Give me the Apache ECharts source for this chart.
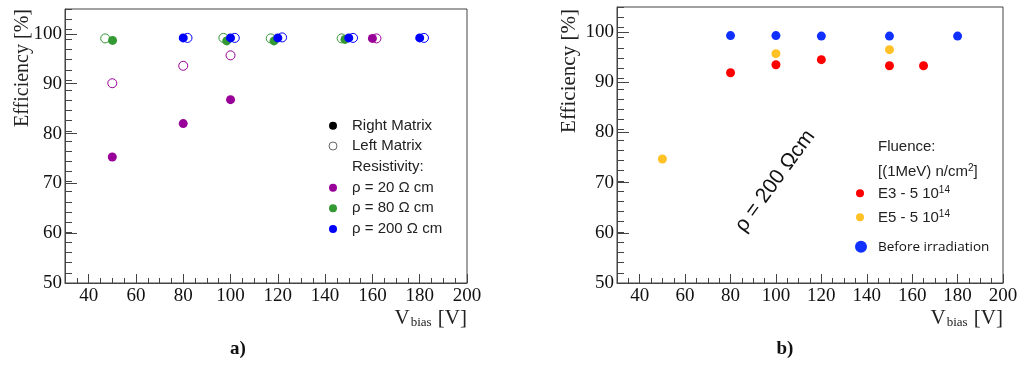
<!DOCTYPE html>
<html><head><meta charset="utf-8">
<script src="https://cdn.jsdelivr.net/npm/echarts@6/dist/echarts.min.js"></script>
<style>html,body{margin:0;padding:0;background:#fff}#c{width:1021px;height:367px}</style>
</head><body><div id="c"></div>
<script>
// ---- Panel a) : efficiency vs bias, per resistivity (right / left matrix) ----
const vRight20 = [50, 80, 100, 160];
const effRight20 = [75.3, 82.0, 86.8, 99.1];
const vLeft20 = [50, 80, 100, 161.7];
const effLeft20 = [90.1, 93.6, 95.7, 99.1];
const vRight80 = [50.1, 98.4, 118.4, 148.4];
const effRight80 = [98.7, 98.6, 98.6, 98.9];
const vLeft80 = [47, 97, 117, 147];
const effLeft80 = [99.1, 99.2, 99.1, 99.1];
const vRight200 = [80, 100, 120, 150, 180];
const effRight200 = [99.2, 99.2, 99.2, 99.2, 99.2];
const vLeft200 = [81.8, 101.8, 121.8, 151.8, 181.8];
const effLeft200 = [99.2, 99.2, 99.3, 99.2, 99.2];

// ---- Panel b) : rho = 200 Ohm cm, irradiated vs before ----
const vE3 = [80, 100, 120, 150, 165];
const effE3 = [91.9, 93.5, 94.5, 93.3, 93.3];
const vE5 = [50, 100, 150];
const effE5 = [74.7, 95.7, 96.5];
const vBefore = [80, 100, 120, 150, 180];
const effBefore = [99.3, 99.3, 99.2, 99.2, 99.2];

// ---- tick labels ----
const xTickLabels = [40, 60, 80, 100, 120, 140, 160, 180, 200];
const yTickLabels = [50, 60, 70, 80, 90, 100];

const zip = (xs, ys) => xs.map((x, i) => [x, ys[i]]);
const frame = '#444';
const serif = "'Liberation Serif', serif";
const sans = "'Liberation Sans', sans-serif";

function xMain(gi) {
  return { type: 'value', gridIndex: gi, min: 30, max: 200,
    axisLine: { show: true, lineStyle: { color: frame, width: 1 } },
    axisTick: { show: true, inside: true, length: 9, customValues: xTickLabels, lineStyle: { color: frame } },
    axisLabel: { customValues: xTickLabels, fontFamily: serif, fontSize: 19, color: '#111', margin: 4 },
    splitLine: { show: false } };
}
function xMinor(gi) {
  return { type: 'value', gridIndex: gi, min: 30, max: 200, interval: 5,
    axisLine: { show: false }, axisTick: { show: true, inside: true, length: 5, lineStyle: { color: frame } },
    axisLabel: { show: false }, splitLine: { show: false } };
}
function yMain(gi) {
  return { type: 'value', gridIndex: gi, min: 50, max: 105,
    axisLine: { show: true, lineStyle: { color: frame, width: 1 } },
    axisTick: { show: true, inside: true, length: 12, customValues: yTickLabels, lineStyle: { color: frame } },
    axisLabel: { customValues: yTickLabels, fontFamily: serif, fontSize: 19, color: '#111', margin: 3 },
    splitLine: { show: false } };
}
function yMinor(gi) {
  return { type: 'value', gridIndex: gi, min: 50, max: 104, interval: 2,
    axisLine: { show: false }, axisTick: { show: true, inside: true, length: 7, lineStyle: { color: frame } },
    axisLabel: { show: false }, splitLine: { show: false } };
}
function filled(name, data, color, ax) {
  return { type: 'scatter', name, data, xAxisIndex: ax, yAxisIndex: ax, symbol: 'circle', symbolSize: 9, z: 4,
    itemStyle: { color, opacity: 1 }, emphasis: { disabled: true } };
}
function hollow(name, data, color, ax) {
  return { type: 'scatter', name, data, xAxisIndex: ax, yAxisIndex: ax, symbol: 'circle', symbolSize: 9, z: 3,
    itemStyle: { color: 'rgba(255,255,255,0)', borderColor: color, borderWidth: 1, opacity: 1 }, emphasis: { disabled: true } };
}

const purple = '#990099', green = '#339933', blue = '#0000ff';
const red = '#ff0000', yellow = '#ffc125', blue2 = '#1030ff';

function legDot(cx, cy, r, fill, stroke) {
  return { type: 'circle', shape: { cx, cy, r }, style: fill ? { fill } : { fill: 'none', stroke, lineWidth: 1 }, z: 10 };
}
function legText(x, y, text, extra) {
  return { type: 'text', x, y, z: 10, style: Object.assign({ text, fontFamily: sans, fontSize: 15, fill: '#222', verticalAlign: 'middle', align: 'left' }, extra || {}) };
}
const supRich = { t: { fontFamily: sans, fontSize: 15, fill: '#222', lineHeight: 17 }, p: { fontFamily: sans, fontSize: 10, fill: '#222', lineHeight: 10, verticalAlign: 'top' } };
const vbiasRich = { v: { fontFamily: serif, fontSize: 21, fill: '#222', lineHeight: 22 },
                    s: { fontFamily: serif, fontSize: 13, fill: '#222', lineHeight: 12, verticalAlign: 'bottom', padding: [0, 1, 0, 1] } };

// grid rectangles: 0 = panel a, 1 = panel a minor ticks, 2 = panel b, 3 = panel b minor ticks
const gA = { left: 65, top: 9, width: 402, height: 274 };
const gB = { left: 617, top: 7, width: 386, height: 276 };

const leftRows = [125.7, 146, 166.7, 187.7, 208.3, 229];
const option = {
  animation: false,
  backgroundColor: '#fff',
  grid: [
    Object.assign({ show: true, borderColor: frame, borderWidth: 1 }, gA),
    Object.assign({ show: false }, gA),
    Object.assign({ show: true, borderColor: frame, borderWidth: 1 }, gB),
    Object.assign({ show: false }, gB)
  ],
  xAxis: [xMain(0), xMinor(1), xMain(2), xMinor(3)],
  yAxis: [yMain(0), yMinor(1), yMain(2), yMinor(3)],
  series: [
    hollow('ρ = 20 Ω cm (left)', zip(vLeft20, effLeft20), purple, 0),
    hollow('ρ = 80 Ω cm (left)', zip(vLeft80, effLeft80), green, 0),
    hollow('ρ = 200 Ω cm (left)', zip(vLeft200, effLeft200), blue, 0),
    filled('ρ = 20 Ω cm (right)', zip(vRight20, effRight20), purple, 0),
    filled('ρ = 80 Ω cm (right)', zip(vRight80, effRight80), green, 0),
    filled('ρ = 200 Ω cm (right)', zip(vRight200, effRight200), blue, 0),
    filled('E3 - 5 10^14', zip(vE3, effE3), red, 2),
    filled('E5 - 5 10^14', zip(vE5, effE5), yellow, 2),
    filled('Before irradiation', zip(vBefore, effBefore), blue2, 2)
  ],
  graphic: [
    { type: 'text', x: 23, y: 68, rotation: Math.PI / 2, z: 10,
      style: { text: 'Efficiency [%]', fontFamily: serif, fontSize: 20, fill: '#222', align: 'center', verticalAlign: 'middle' } },
    { type: 'text', x: 569, y: 71, rotation: Math.PI / 2, z: 10,
      style: { text: 'Efficiency [%]', fontFamily: serif, fontSize: 21, fill: '#222', align: 'center', verticalAlign: 'middle' } },
    { type: 'text', x: 467, y: 318, z: 10,
      style: { text: '{v|V}{s|bias}{v| [V]}', align: 'right', verticalAlign: 'middle', rich: vbiasRich } },
    { type: 'text', x: 1003, y: 318, z: 10,
      style: { text: '{v|V}{s|bias}{v| [V]}', align: 'right', verticalAlign: 'middle', rich: vbiasRich } },
    { type: 'text', x: 238, y: 349, z: 10, style: { text: 'a)', fontFamily: serif, fontWeight: 'bold', fontSize: 19, fill: '#111', align: 'center', verticalAlign: 'middle' } },
    { type: 'text', x: 785, y: 349, z: 10, style: { text: 'b)', fontFamily: serif, fontWeight: 'bold', fontSize: 19, fill: '#111', align: 'center', verticalAlign: 'middle' } },
    { type: 'text', x: 775, y: 181, rotation: 0.94, z: 10,
      style: { text: 'ρ = 200 Ωcm', fontFamily: sans, fontSize: 21, fill: '#111', align: 'center', verticalAlign: 'middle' } },
    legDot(333, leftRows[0], 4, '#000'),
    legText(352, leftRows[0], 'Right Matrix'),
    legDot(333, leftRows[1], 4, null, '#666'),
    legText(352, leftRows[1], 'Left Matrix'),
    legText(352, leftRows[2], 'Resistivity:'),
    legDot(333, leftRows[3], 4, purple),
    legText(352, leftRows[3], 'ρ = 20 Ω cm'),
    legDot(333, leftRows[4], 4, green),
    legText(352, leftRows[4], 'ρ = 80 Ω cm'),
    legDot(333, leftRows[5], 4, blue),
    legText(352, leftRows[5], 'ρ = 200 Ω cm'),
    legText(878, 147, 'Fluence:'),
    { type: 'text', x: 878, y: 172, z: 10, style: { text: '{t|[(1MeV) n/cm}{p|2}{t|]}', verticalAlign: 'middle', align: 'left', rich: supRich } },
    legDot(860, 193.3, 4, red),
    { type: 'text', x: 878, y: 194, z: 10, style: { text: '{t|E3 - 5 10}{p|14}', verticalAlign: 'middle', align: 'left', rich: supRich } },
    legDot(860, 217.3, 4, yellow),
    { type: 'text', x: 878, y: 218, z: 10, style: { text: '{t|E5 - 5 10}{p|14}', verticalAlign: 'middle', align: 'left', rich: supRich } },
    legDot(861, 246.7, 6, blue2),
    legText(878, 247, 'Before irradiation', { fontFamily: "'Open Sans', sans-serif", fontSize: 13.5, fill: '#111' })
  ]
};
const chart = echarts.init(document.getElementById('c'), null, { renderer: 'canvas' });
chart.setOption(option);
</script></body></html>
